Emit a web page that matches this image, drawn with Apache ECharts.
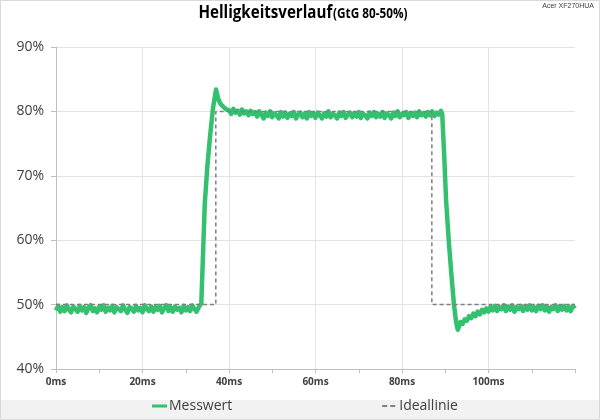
<!DOCTYPE html>
<html><head><meta charset="utf-8">
<script src="https://cdn.jsdelivr.net/npm/echarts@6/dist/echarts.min.js"></script>
<style>html,body{margin:0;padding:0;background:#fff}#c{width:600px;height:420px}</style>
</head><body><div id="c"></div>
<script>
// Messwert, low level before the transition: 0 ms .. 33 ms, one reading every 0.5 ms (%)
const baseStep = 0.5;
const baseValues = [49.1,49.8,48.9,49.6,49.0,49.9,49.2,48.8,49.7,49.3,
  48.9,49.8,49.1,49.6,48.7,49.5,49.9,49.0,49.4,48.8,
  49.7,49.2,49.9,48.9,49.5,49.1,49.8,48.8,49.6,49.3,
  49.0,49.9,49.2,48.7,49.6,49.4,48.9,49.8,49.1,49.5,
  48.8,49.9,49.3,49.0,49.7,48.9,49.6,49.2,49.8,48.8,
  49.4,49.9,49.0,49.6,48.9,49.7,49.2,49.5,48.8,49.8,
  49.1,49.6,49.0,49.9,49.3,48.9,49.6];
// rise (ms / %)
const riseTime = [33.3,33.6,34.4,35.0,35.6,36.3,37.0,37.5,38.0,38.7,39.4];
const riseValues = [49.6,50.2,65.7,71.5,76.0,80.5,83.4,82.0,81.2,80.7,80.3];
// high level: 40 ms .. 89 ms, every 0.5 ms (%)
const plateauStart = 40;
const plateauValues = [80.2,79.6,80.4,79.8,80.1,79.5,80.3,79.7,80.0,79.4,
  80.1,79.6,79.9,79.2,80.0,79.5,78.9,79.8,79.3,80.0,
  79.1,79.7,79.4,78.9,79.9,79.2,79.8,79.0,79.6,79.3,
  79.9,78.9,79.5,79.8,79.1,79.6,78.9,79.9,79.3,79.7,
  79.0,79.8,79.4,78.9,79.7,79.2,80.0,79.1,79.6,79.4,
  78.9,79.8,79.3,79.9,79.0,79.5,79.8,79.1,79.7,79.2,
  79.9,79.0,79.6,79.4,78.9,79.8,79.3,79.9,79.1,79.6,
  79.2,79.9,79.0,79.7,79.4,78.9,79.8,79.3,80.0,79.1,
  79.6,79.4,79.9,79.0,79.7,79.3,79.8,79.1,80.0,79.4,
  79.7,79.2,79.9,79.4,80.0,79.3,79.8,79.5,80.1];
// fall and undershoot recovery (ms / %)
const fallTime = [89.3,89.8,90.2,90.8,91.4,92.0,92.5,92.9,93.2,93.5,94.0,94.5,95.0,95.5,96.0,96.5,97.0,97.5,98.0,98.5,99.0,99.5];
const fallValues = [79.6,72.5,66.1,60.0,54.8,50.1,47.3,46.1,46.6,47.3,47.0,47.7,47.5,48.2,47.9,48.6,48.2,48.9,48.5,49.2,48.8,49.4];
// low level after: 100 ms .. 120 ms, every 0.5 ms (%)
const tailStart = 100;
const tailValues = [48.9,49.7,49.1,49.8,49.0,49.6,49.3,49.9,49.0,49.7,
  49.2,49.9,48.9,49.6,49.3,49.8,49.0,49.7,49.2,49.9,
  49.1,49.6,49.0,49.8,49.3,49.9,49.1,49.7,48.9,49.6,
  49.3,49.9,49.0,49.7,49.2,49.8,49.1,49.6,49.0,49.8,
  49.4];
// Ideallinie
const idealTime = [0,36.95,36.95,86.9,86.9,120];
const idealValue = [50,50,80,80,50,50];
const xTicks = [0,20,40,60,80,100];
const yTicks = [40,50,60,70,80,90];

const messwert = [];
baseValues.forEach((v,i)=>messwert.push([i*baseStep, v]));
riseValues.forEach((v,i)=>messwert.push([riseTime[i], v]));
plateauValues.forEach((v,i)=>messwert.push([plateauStart+i*baseStep, v]));
fallValues.forEach((v,i)=>messwert.push([fallTime[i], v]));
tailValues.forEach((v,i)=>messwert.push([tailStart+i*baseStep, v]));
const ideal = idealTime.map((t,i)=>[t, idealValue[i]]);

const GREEN = '#33c16f';
const chart = echarts.init(document.getElementById('c'));
chart.setOption({
  animation:false,
  backgroundColor:'#fff',
  textStyle:{fontFamily:'Open Sans'},
  graphic:[
    {type:'rect',z:-10,shape:{x:0,y:400,width:600,height:20},style:{fill:'#f2f2f2'}},
    {type:'rect',z:100,shape:{x:0.5,y:0.5,width:599,height:419},style:{fill:'none',stroke:'#d9d9d9',lineWidth:1}},
    {type:'text',x:303,y:4,scaleX:0.84,style:{align:'center',verticalAlign:'top',
      text:'{a|Helligkeitsverlauf}{b|(GtG 80-50%)}',rich:{
      a:{fontSize:18,fontWeight:'bold',fill:'#000',fontFamily:'Open Sans'},
      b:{fontSize:14,fontWeight:'bold',fill:'#000',fontFamily:'Open Sans',padding:[3,0,0,1]}}}},
    {type:'text',right:6,top:3,style:{text:'Acer XF270HUA',fontSize:7,fill:'#404040',fontFamily:'Liberation Sans'}}
  ],
  grid:{left:56,right:25,top:47,bottom:51,containLabel:false},
  legend:{
    bottom:2,left:147,itemGap:150,itemWidth:15,itemHeight:3,
    textStyle:{fontSize:14,color:'#404040',fontFamily:'Open Sans',padding:[0,0,0,-3]},
    data:[
      {name:'Messwert',icon:'path://M0,0H15V3H0Z'},
      {name:'Ideallinie',icon:'path://M0,0.5H5V2.5H0Z M8,0.5H13V2.5H8Z M15,0H15.01V3H15Z'}
    ]
  },
  xAxis:{type:'value',min:0,max:120,interval:20,
    axisLine:{show:true,lineStyle:{color:'#bfbfbf'}},
    axisTick:{show:true,length:4,lineStyle:{color:'#bfbfbf'}},
    minorTick:{show:true,splitNumber:2,length:4,lineStyle:{color:'#bfbfbf'}},
    splitLine:{show:true,showMinLine:false,showMaxLine:false,lineStyle:{color:'#e3e3e3'}},
    axisLabel:{fontSize:10,fontWeight:'bold',color:'#404040',margin:8,
      formatter:v=>xTicks.includes(v)?v+'ms':''}
  },
  yAxis:{type:'value',min:40,max:90,interval:10,
    axisLine:{show:true,lineStyle:{color:'#bfbfbf'}},
    axisTick:{show:true,length:5,lineStyle:{color:'#bfbfbf'}},
    splitLine:{show:true,lineStyle:{color:'#e3e3e3'}},
    axisLabel:{fontSize:14,color:'#404040',margin:12,formatter:v=>yTicks.includes(v)?v+'%':''}
  },
  series:[
    {name:'Messwert',type:'line',symbol:'none',data:messwert,
      lineStyle:{color:GREEN,width:4.5,join:'round'},itemStyle:{color:GREEN}},
    {name:'Ideallinie',type:'line',symbol:'none',data:ideal,
      lineStyle:{color:'#7f7f7f',width:1.5,type:[4,3]},itemStyle:{color:'#7f7f7f'}}
  ]
});
</script></body></html>
